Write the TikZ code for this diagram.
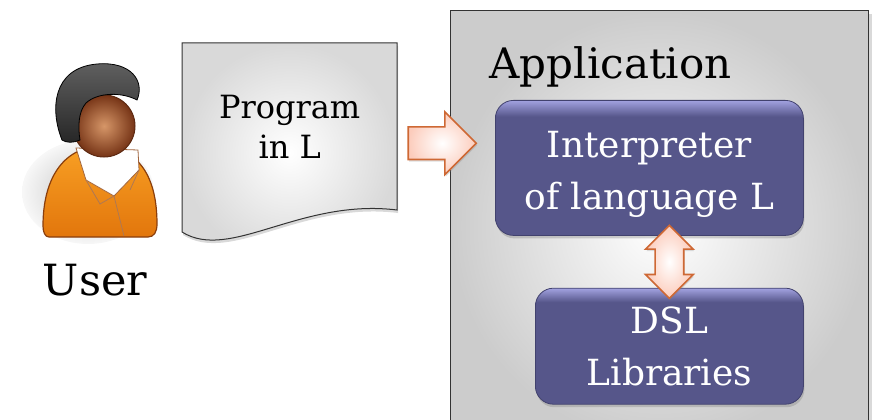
\documentclass[tikz,border=0pt]{standalone}
\usepackage{fontspec}
\setmainfont{DejaVu Serif}
\usetikzlibrary{arrows.meta, positioning, shapes.arrows, shadows, calc}

\definecolor{boxblue}{RGB}{86,86,138}
\definecolor{boxtop}{RGB}{162,162,224}
\definecolor{boxline}{RGB}{66,66,110}
\definecolor{arrowline}{RGB}{206,104,52}
\definecolor{arrowfill}{RGB}{252,204,188}
\definecolor{skin}{RGB}{214,150,104}
\definecolor{skindark}{RGB}{118,52,22}
\definecolor{suit}{RGB}{248,160,36}
\definecolor{suitdark}{RGB}{226,118,12}
\definecolor{suitline}{RGB}{138,62,12}

% blue boxes: flat fill with a light band along the top edge
\pgfdeclareverticalshading{bevel}{100bp}{color(0bp)=(boxblue); color(69bp)=(boxblue); color(75bp)=(boxtop); color(100bp)=(boxtop)}

\begin{document}
\begin{tikzpicture}[x=1pt, y=-1pt,
    appbox/.style={draw=black!80, line width=1.4pt, inner color=white, outer color=black!20, inner sep=0pt,
        drop shadow={opacity=0.3, shadow xshift=3pt, shadow yshift=-3pt}},
    bluebox/.style={draw=boxline, line width=0.8pt, rounded corners=18pt, shading=bevel, text=white, align=center,
        font=\fontsize{36}{52}\selectfont, inner sep=0pt,
        drop shadow={opacity=0.35, shadow xshift=1pt, shadow yshift=-3pt}},
    blockarrow/.style={draw=arrowline, line width=1.6pt, inner color=white, outer color=arrowfill,
        drop shadow={opacity=0.25, shadow xshift=1pt, shadow yshift=-2pt}},
    docpage/.style={draw=black!80, line width=1pt, inner color=white, outer color=black!15,
        drop shadow={opacity=0.3, shadow xshift=1pt, shadow yshift=-3pt}},
    bigtext/.style={font=\fontsize{43}{50}\selectfont}
]
\useasboundingbox (0,0) rectangle (876,420);
\clip (0,0) rectangle (876,420);

% application frame
\node[appbox, minimum width=418pt, minimum height=430pt, anchor=north west] (app) at (450,10) {};
\node[font=\fontsize{42}{50}\selectfont, anchor=base west] (apptitle) at (486,78) {Application};

\node[bluebox, minimum width=308pt, minimum height=135pt, anchor=north west] (interp) at (495,100)
    {\rule{0pt}{40pt}Interpreter\\of language L};
\node[bluebox, minimum width=268pt, minimum height=116pt, below=52pt of interp.south east, anchor=north east] (dsl)
    {DSL\\Libraries};

\node[blockarrow, double arrow, shape border rotate=90, inner sep=13.5pt, minimum height=73pt,
    double arrow head extend=9.5pt] (link) at ($(interp.south -| dsl.north)!0.5!(dsl.north)$) {};

% program sheet with wavy bottom
\shade[docpage] (182,43) -- (397,43) -- (397,210) .. controls (300,198) and (230,262) .. (182,232) -- cycle;
\node[minimum width=215pt, minimum height=200pt, anchor=north west, inner sep=0pt] (doc) at (182,43) {};
\node[font=\fontsize{32}{40}\selectfont, align=center] (prog) at ([yshift=16pt]doc.center) {Program\\in L};

\node[blockarrow, single arrow, inner sep=15.5pt, minimum height=68pt, single arrow head extend=15pt,
    right=10pt of doc, anchor=tail] (feed) {};

% user figure
\shade[inner color=black!24, outer color=black!3] (88,192) ellipse [x radius=66, y radius=52];
\shade[top color=suit, bottom color=suitdark, draw=suitline, line width=1.2pt]
    (49,237) .. controls (45,237) and (43,232) .. (43,226) .. controls (43,180) and (62,148) .. (100,146)
    .. controls (140,148) and (157,178) .. (157,224) .. controls (157,232) and (154,237) .. (148,237) -- cycle;
\fill[white, draw=suitline!80, line width=0.8pt] (76,148) -- (86,180) -- (114,196) -- (139,170) -- (138,150) -- cycle;
\draw[suitline!70, line width=0.8pt] (86,180) -- (100,204) -- (114,196) -- (124,236);
\draw[suitline!70, line width=0.8pt] (139,170) -- (130,190);
\shade[inner color=skin, outer color=skindark, draw=skindark!80!black, line width=1pt] (104,126) circle [radius=31];
\shade[top color=black!62, bottom color=black!85, draw=black, line width=0.8pt]
    (62,140) .. controls (50,110) and (52,68) .. (97,64) .. controls (132,61) and (145,82) .. (137,100)
    .. controls (122,92) and (98,92) .. (86,103) .. controls (78,112) and (78,128) .. (80,140)
    .. controls (74,143) and (66,143) .. (62,140) -- cycle;
\node[bigtext, anchor=base] (user) at (95,295) {User};

\end{tikzpicture}
\end{document}
